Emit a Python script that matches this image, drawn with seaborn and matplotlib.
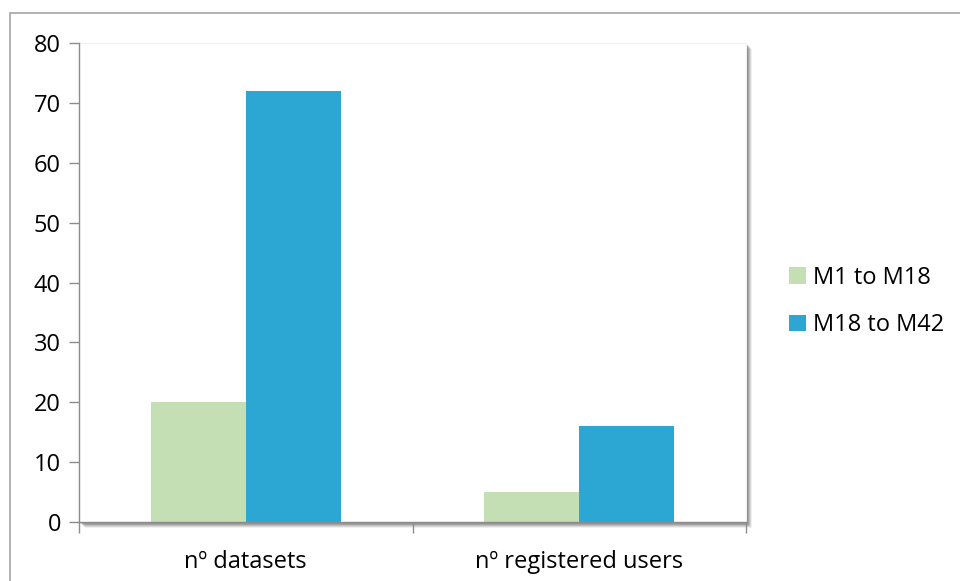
import pandas as pd
import matplotlib
matplotlib.use('Agg')
import matplotlib.pyplot as plt
import matplotlib.patches as mpatches
import seaborn as sns

# datos
categorias = ['nº datasets', 'nº registered users']
periodos = ['M1 to M18', 'M18 to M42']
valores_m1_m18 = [20, 5]
valores_m18_m42 = [72, 16]
ticks_y = [0, 10, 20, 30, 40, 50, 60, 70, 80]

colores = ['#C4DFB3', '#2CA7D4']

tabla = pd.DataFrame({
    'categoria': categorias * 2,
    'periodo': [periodos[0]] * 2 + [periodos[1]] * 2,
    'valor': valores_m1_m18 + valores_m18_m42,
})

sns.set_style('white')
plt.rcParams['font.family'] = ['Open Sans', 'DejaVu Sans']
plt.rcParams['text.color'] = 'black'
plt.rcParams['xtick.color'] = 'black'
plt.rcParams['ytick.color'] = 'black'

fig = plt.figure(figsize=(9.6, 5.81), dpi=100)
ax = fig.add_axes([0.0823, 0.1015, 0.6948, 0.8245])

##sombra del area del grafico (varias capas para que se vea difuminada)
W, H = 667.0, 479.0
for k, a in enumerate([0.10, 0.18, 0.25, 0.32, 0.40]):
    d = 6 - k
    ax.add_patch(mpatches.Rectangle((d / W, -d / H), 1.0, 1.0, transform=ax.transAxes,
                                    facecolor='#707070', edgecolor='none', alpha=a,
                                    zorder=-3, clip_on=False))
fondo = mpatches.Rectangle((0, 0), 1.0, 1.0, transform=ax.transAxes,
                           facecolor='white', edgecolor='#f0f0f0', lw=0.8,
                           zorder=-1, clip_on=False)
ax.add_patch(fondo)
ax.set_facecolor('none')

sns.barplot(data=tabla, x='categoria', y='valor', hue='periodo',
            order=categorias, hue_order=periodos, palette=colores,
            width=0.57, saturation=1, ax=ax, legend=False, zorder=2,
            linewidth=0)

ax.set_xlim(-0.5, 1.5)
ax.set_ylim(0, 80)
ax.set_yticks(ticks_y)
ax.set_xlabel('')
ax.set_ylabel('')

for s in ['top', 'right']:
    ax.spines[s].set_visible(False)
for s in ['left', 'bottom']:
    ax.spines[s].set_color('#8c8c8c')
    ax.spines[s].set_linewidth(1.0)

ax.tick_params(axis='y', direction='out', length=7, width=1, color='#8c8c8c',
               labelcolor='black', labelsize=17, pad=6, left=True)
ax.tick_params(axis='x', which='major', length=0, labelsize=17, pad=20,
               labelcolor='black')
ax.set_xticks([-0.5, 0.5, 1.5], minor=True)
ax.tick_params(axis='x', which='minor', direction='out', length=8, width=1,
               color='#8c8c8c', bottom=True)

##leyenda a la derecha
handles = [mpatches.Patch(facecolor=c, edgecolor='none', label=p)
           for c, p in zip(colores, periodos)]
leg = fig.legend(handles=handles, loc='center left', bbox_to_anchor=(0.8, 0.481),
                 frameon=False, fontsize=17, handlelength=0.7, handleheight=0.7,
                 handletextpad=0.3, labelspacing=1.0)
for t in leg.get_texts():
    t.set_color('black')

##borde del grafico
borde = mpatches.Rectangle((10 / 960, -0.1), 1.2, 1 - 13 / 581 + 0.1,
                           transform=fig.transFigure, facecolor='none',
                           edgecolor='#a6a6a6', lw=1.2, clip_on=False)
fig.patches.append(borde)

fig.savefig('out.png', dpi=100)
